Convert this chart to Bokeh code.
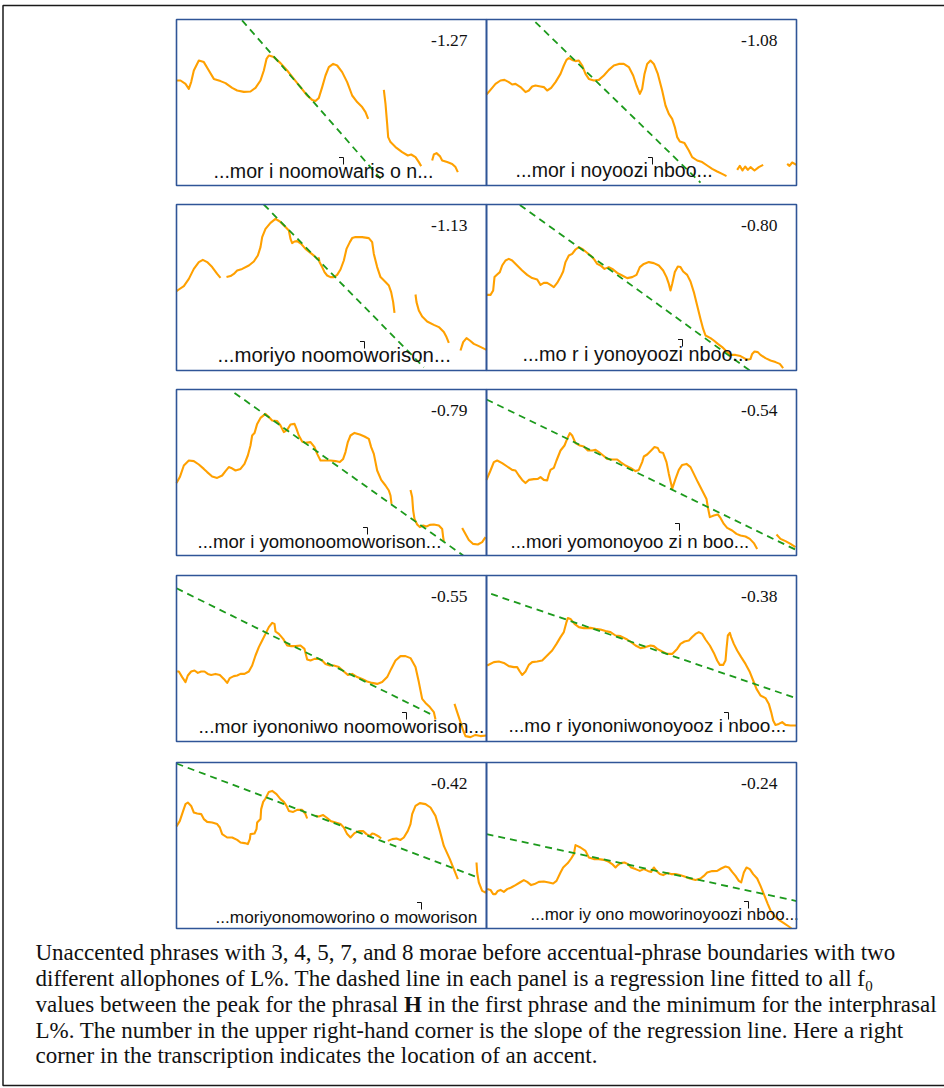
import glob

from bokeh.core.properties import value
from bokeh.embed import file_html
from bokeh.models import Range1d
from bokeh.plotting import figure
from bokeh.resources import INLINE

NaN = float("nan")

# ---------------------------------------------------------------------------
# f0 tracks, one list per panel; each inner list is a voiced stretch of
# (time in ms, f0 in Hz)
# ---------------------------------------------------------------------------
P1 = [
    [(0, 159.5), (18, 159.5), (40.5, 157.8), (55.5, 155.3), (66, 158.7), (78, 164.5), (100.5, 169.5),
     (123, 168.7), (145.5, 164.5), (168, 160.3), (198, 159.2), (220.5, 158.2), (250.5, 155.8), (273, 154.5),
     (303, 153.8), (333, 154), (355.5, 155.8), (378, 159.5), (393, 164.5), (405, 170.3), (415.5, 172),
     (438, 171.2), (468, 168.2), (498, 164.5), (528, 160.3), (558, 156.2), (588, 152), (610.5, 149.8),
     (625.5, 149.2), (640.5, 150.8), (655.5, 156.2), (670.5, 162), (685.5, 166.2), (705, 167.8), (723, 167),
     (745.5, 163.7), (768, 158.7), (790.5, 152), (813, 148.7), (835.5, 146.2), (850.5, 143.7), (862.5, 140.3)],
    [(933, 154.8), (940.5, 147.8), (948, 137.8), (952.5, 131.2), (963, 128.7), (985.5, 126.2), (1015.5, 123.7),
     (1041, 122), (1056, 122.5), (1075.5, 121.2), (1090.5, 118.7), (1101, 116.7)],
    [(1150.5, 119.5), (1158, 122.5), (1170, 123.2), (1185, 121.7), (1195.5, 119.5), (1218, 118.7),
     (1240.5, 117.8), (1255.5, 116.2), (1266, 113.7)],
]

P2 = [
    [(0, 152.5), (18, 154.8), (40.5, 157.8), (63, 159.5), (81, 159.8), (100.5, 158.7), (115.5, 157.5),
     (130.5, 157.8), (153, 156.2), (175.5, 153.7), (190.5, 154.5), (205.5, 156.5), (220.5, 157), (243, 156.5),
     (258, 156.2), (273, 154.5), (291, 155.8), (310.5, 158.7), (333, 162.8), (348, 167), (360, 169.8),
     (370.5, 170.7), (385.5, 169.8), (400.5, 169.2), (415.5, 169.5), (430.5, 167), (445.5, 162.8),
     (460.5, 160.3), (483, 159.5), (505.5, 159.8), (528, 162), (550.5, 164.8), (573, 167), (595.5, 167.8),
     (618, 167.8), (640.5, 166.2), (660, 162), (675, 157), (690, 152.8), (700.5, 155.3), (711, 162.8),
     (723, 167.8), (738, 169.5), (753, 167.8), (771, 162.8), (790.5, 154.5), (805.5, 147), (820.5, 142.8),
     (835.5, 140.3), (847.5, 136.2), (858, 131.2), (870, 129), (891, 128.2), (910.5, 124.5), (925.5, 121.2),
     (948, 119.5), (970.5, 118.7), (993, 117), (1015.5, 115.3), (1038, 114), (1060.5, 112.8), (1080, 111.7)],
    [(1128, 114.8), (1140, 116.8), (1152, 114.5), (1164, 116.5), (1176, 114.8), (1188, 116.2), (1206, 114.5),
     (1225.5, 116.2), (1245, 117.3)],
    [(1353, 117.8), (1363.5, 116.8), (1375.5, 118.5), (1395, 117.3)],
]

P3 = [
    [(0, 146.7), (10.5, 147.5), (33, 149.2), (55.5, 152.8), (78, 157.8), (100.5, 161.2), (118.5, 162.3),
     (138, 161.2), (160.5, 158.7), (183, 155.3), (198, 153.3)],
    [(225, 153.7), (243, 154.2), (258, 155.3), (273, 157), (295.5, 157.8), (325.5, 159.5), (348, 161.5),
     (366, 164.5), (378, 168.7), (385.5, 173.7), (400.5, 177.8), (423, 180.8), (445.5, 182.8), (465, 181.5),
     (490.5, 178.7), (505.5, 177), (513, 172.8), (520.5, 170.7), (531, 171.5), (543, 171.7), (561, 170.3),
     (580.5, 167.8), (603, 165.8), (621, 164.2), (633, 162.8), (640.5, 163.2), (643.5, 161.2), (655.5, 158.7),
     (666, 156.2), (678, 154.5), (693, 153.7), (708, 153.7), (723, 154.8), (738, 157.5), (753, 162),
     (765, 167.8), (780, 171.2), (790.5, 173.2), (805.5, 173.7), (835.5, 173.7), (865.5, 173.2), (880.5, 171.2),
     (888, 165.3), (903, 158.7), (918, 153.7), (940.5, 151.2), (955.5, 149.5), (966, 146.2), (975, 141.2),
     (981, 135.8)],
    [(1075.5, 145), (1080, 141.2), (1090.5, 137), (1105.5, 134), (1128, 131.5), (1158, 129.8), (1180.5, 128.7),
     (1203, 126.2), (1215, 123.7), (1225.5, 120.8)],
    [(1278, 117), (1290, 121.2), (1305, 123.2), (1320, 122), (1338, 120.3), (1360.5, 119.2), (1395, 117.3)],
]

P4 = [
    [(0, 144.8), (18, 144.8), (30, 147), (36, 153.7), (48, 155), (60, 156.2), (70.5, 159.5), (85.5, 162),
     (100.5, 162.8), (115.5, 162), (138, 159.5), (160.5, 157), (183, 154.8), (205.5, 153.2), (228, 152.5),
     (243, 149.8), (258, 150.8), (273, 150.8), (288, 149.8), (303, 148.7), (318, 150.8), (333, 153.7),
     (345, 156.5), (355.5, 161.2), (370.5, 164.5), (385.5, 165.3), (400.5, 167.5), (415.5, 168.7),
     (430.5, 167.8), (445.5, 166.5), (468, 164.5), (483, 162.8), (498, 160.3), (513, 159.5), (531, 157.8),
     (550.5, 158.7), (570, 157.5), (588, 155.8), (610.5, 154.5), (633, 153.2), (655.5, 153.7), (675, 154.8),
     (690, 158.7), (708, 160.3), (730.5, 161.2), (753, 160.7), (775.5, 159.5), (795, 157), (810, 153.7),
     (820.5, 150.3), (828, 147), (835.5, 150.3), (847.5, 156.2), (861, 159), (873, 158.7), (885, 156.5),
     (903, 154.8), (918, 151.5), (933, 146.2), (948, 139.5), (963, 132.8), (975, 127.8), (985.5, 124.5),
     (1008, 123.2), (1023, 122), (1041, 120.3), (1060.5, 118.7), (1083, 116.2), (1098, 114.8), (1120.5, 114.8),
     (1143, 114.2), (1165.5, 112.8), (1177.5, 112.5), (1188, 112.8), (1195.5, 115.3), (1206, 116.5),
     (1221, 116.2), (1233, 114.8), (1255.5, 113.2), (1278, 112), (1300.5, 111.2), (1320, 110.3), (1335, 108.2)],
]

P5 = [
    [(0, 143.2), (15, 146.2), (33, 152), (55.5, 154.5), (78, 154.2), (100.5, 152.5), (123, 150.3), (138, 148.7),
     (160.5, 146.5), (183, 145.8), (205.5, 147), (220.5, 149.2), (235.5, 151.2), (246, 150.8), (265.5, 149.5),
     (288, 150.3), (306, 152.8), (321, 157), (333, 162), (340.5, 167), (351, 168.2), (363, 172.8), (378, 175.8),
     (400.5, 177.8), (415.5, 176.2), (430.5, 174.5), (453, 174.2), (468, 172), (483, 168.7), (498, 169.8),
     (513, 172.5), (531, 172.8), (540, 170.3), (550.5, 167), (565.5, 164), (580.5, 163.3), (603, 163.7),
     (621, 161.2), (633, 157.8), (648, 154.5), (670.5, 154.5), (693, 154.5), (715.5, 154.2), (735, 153.7),
     (750, 155.3), (760.5, 158.7), (771, 163.7), (783, 167), (801, 168.3), (825, 167.5), (846, 166.5),
     (865.5, 165.3), (876, 161.2), (888, 157.8), (903, 149.5), (921, 144.8), (940.5, 142), (955.5, 139.5),
     (963, 137), (967.5, 132.8)],
    [(1053, 139.8), (1060.5, 136.2), (1065, 129.5), (1071, 125.3), (1083, 122.5), (1095, 121.2), (1110, 122),
     (1125, 121.5), (1140, 122.3), (1158, 122.5), (1180.5, 122), (1195.5, 120.3), (1200, 116.2), (1203, 114.2)],
    [(1285.5, 120.8), (1300.5, 117.8), (1315.5, 114.8), (1335, 112.8), (1356, 112.5), (1375.5, 113.7),
     (1390.5, 116.2)],
]

P6 = [
    [(0, 144.8), (18, 149.5), (33, 153.7), (48, 154.5), (70.5, 153.2), (93, 151.5), (115.5, 149.8),
     (130.5, 149.5), (145.5, 147), (160.5, 144.8), (175.5, 143.2), (190.5, 144.8), (213, 145.2), (231, 145.3),
     (243, 146.2), (258, 144.8), (273, 144.5), (280.5, 147.5), (288, 149.8), (303, 150.8), (315, 154.5),
     (333, 159.5), (351, 162), (363, 165.3), (375, 168.2), (385.5, 167), (400.5, 163.2), (420, 162),
     (438, 161.5), (456, 159.5), (475.5, 159.5), (490.5, 159.8), (505.5, 158.7), (525, 157), (543, 155.3),
     (565.5, 155), (588, 155), (603, 153.7), (625.5, 152), (648, 150.8), (670.5, 149.2), (685.5, 149.8),
     (700.5, 153.7), (708, 156.5), (723, 157.5), (741, 159.5), (756, 161.2), (771, 160.7), (780, 158.7),
     (795, 158.2), (810, 153.7), (820.5, 147.8), (831, 142.8), (835.5, 140.3), (850.5, 145.3), (865.5, 149.8),
     (880.5, 152.3), (900, 152.8), (918, 151.2), (933, 147.8), (951, 143.7), (970.5, 139.5), (990, 135.3),
     (996, 131.2), (1005, 126.2), (1023, 127), (1041, 127.5), (1053, 125.8), (1068, 122.8), (1083, 120.8),
     (1105.5, 119.5), (1125, 117.8), (1143, 117), (1165.5, 116.5), (1185, 115.3), (1203, 113.2), (1218, 110.3)],
    [(1305, 117.5), (1323, 115.3), (1345.5, 114.2), (1368, 112.8), (1390.5, 111.2)],
]

P7 = [
    [(3, 142), (10.5, 142), (25.5, 139.2), (40.5, 136.7), (51, 140), (66, 142), (81, 142.5), (96, 141.3),
     (111, 142), (126, 142), (141, 140.8), (156, 140.3), (175.5, 140.8), (195, 140.3), (213, 138.3),
     (228, 136.3), (240, 138.7), (258, 139.7), (273, 140), (288, 140.8), (306, 140.8), (325.5, 142),
     (340.5, 145), (355.5, 150), (370.5, 154.2), (385.5, 157.5), (400.5, 160.8), (415.5, 164.2), (430.5, 166.3),
     (441, 165.8), (445.5, 162), (460.5, 160.8), (480, 158.3), (498, 155), (516, 154.7), (535.5, 154.7),
     (558, 155), (576, 153.3), (588, 148), (603, 147.5), (621, 148.3), (640.5, 148.3), (655.5, 147.5),
     (670.5, 145.8), (690, 145), (708, 145), (730.5, 144.2), (753, 142), (771, 140.3), (790.5, 140.8),
     (813, 139.2), (835.5, 138.3), (858, 137), (880.5, 136.3), (903, 135.8), (925.5, 136.7), (948, 139.2),
     (966, 143.3), (985.5, 147.5), (1008, 149.7), (1030.5, 149.7), (1053, 148.7), (1075.5, 144.2),
     (1090.5, 136.7), (1105.5, 128.3), (1120.5, 126.3), (1140, 124.2), (1158, 121.7), (1165.5, 118)],
    [(1251, 125.8), (1263, 121.7), (1278, 116.7), (1290, 112.5), (1300.5, 109.7), (1323, 109.2),
     (1345.5, 110.3), (1368, 109.7), (1395, 110)],
]

P8 = [
    [(3, 145), (33, 146.7), (55.5, 147), (78, 146.3), (100.5, 144.7), (123, 144.2), (138, 144.2), (150, 142),
     (160.5, 140.3), (175.5, 142), (190.5, 145.3), (205.5, 146.7), (228, 147), (250.5, 147.5), (273, 150),
     (295.5, 152.5), (315, 155.8), (333, 159.2), (348, 161.7), (360, 166.7), (366, 168.7), (378, 168.3),
     (396, 165.8), (415.5, 164.2), (438, 163.7), (468, 163.8), (490.5, 163.3), (513, 163), (535.5, 162.2),
     (558, 161.7), (580.5, 160), (603, 159.7), (633, 158), (655.5, 156.3), (670.5, 155), (693, 153.7),
     (715.5, 154.2), (738, 155), (753, 154.7), (768, 153.3), (790.5, 152), (813, 150.8), (835.5, 150.8),
     (858, 153.3), (873, 155.8), (891, 157), (910.5, 157.5), (925.5, 159.2), (940.5, 160.8), (955.5, 161.7),
     (970.5, 160.8), (985.5, 158), (1005, 155), (1023, 151.3), (1038, 147.5), (1050, 145.3), (1065, 145.3),
     (1075.5, 147.5), (1080, 153.3), (1086, 160), (1095, 161.3), (1101, 159.2), (1113, 155.8), (1128, 152.5),
     (1146, 149.2), (1165.5, 145.8), (1185, 141.7), (1200, 137.5), (1215, 133.3), (1233, 130), (1255.5, 128.7),
     (1270.5, 125.8), (1281, 121.7), (1290, 117.5), (1300.5, 115.3), (1315.5, 115.8), (1330.5, 116.7),
     (1345.5, 115.3), (1368, 115), (1395, 115)],
]

P9 = [
    [(0, 158), (15, 160.8), (30, 165.8), (40.5, 169.2), (51, 170), (66, 168.3), (78, 165), (93, 164.5),
     (111, 164.2), (123, 161.7), (138, 160.3), (160.5, 160), (183, 159.2), (195, 157.5), (205.5, 154.2),
     (228, 152.5), (250.5, 152.5), (273, 151.3), (288, 150), (306, 149.7), (321, 149.2), (330, 151.7),
     (333, 154.2), (351, 154.5), (360, 156.7), (363, 160), (378, 161.7), (381, 166.7), (390, 170.3),
     (400.5, 172), (415.5, 175.3), (430.5, 175.8), (450, 174.2), (468, 171.7), (483, 170.3), (495, 168.3),
     (505.5, 165.8), (525, 165.3), (543, 166.3), (565.5, 166.3), (580.5, 164.2), (588, 162)],
    [(625.5, 163.3), (640.5, 163), (660, 163.7), (675, 162.5), (693, 160.8), (715.5, 160), (738, 159.2),
     (753, 157.5), (768, 154.2), (783, 152.5), (801, 154.7), (820.5, 155.7), (840, 155.7), (855, 154.2),
     (870, 153.3), (880.5, 154.5), (891, 154.2), (910.5, 153), (921, 152)],
    [(951, 150.8), (970.5, 151.7), (990, 152), (1008, 151.3), (1023, 152.5), (1041, 155.8), (1053, 159.2),
     (1060.5, 164.2), (1075.5, 168.3), (1095, 169.7), (1120.5, 169.2), (1143, 167.5), (1165.5, 163.3),
     (1185, 155.8), (1203, 148.3), (1230, 141.7), (1248, 136.7), (1266, 131.7)],
    [(1350, 140), (1353, 135), (1360.5, 130), (1375.5, 125.8), (1390.5, 125), (1395, 125.8)],
]

P10 = [
    [(3, 126.7), (18, 126.3), (30, 124.2), (40.5, 124.2), (51, 125.8), (63, 126.3), (78, 125.3), (93, 126.7),
     (111, 127.5), (130.5, 128.7), (150, 130), (168, 131.2), (183, 130.3), (201, 128.7), (216, 129.2),
     (235.5, 130.3), (258, 130.5), (280.5, 130), (300, 129.5), (315, 130.8), (333, 135), (345, 137.5),
     (366, 139.7), (381, 142), (393, 144.2), (400.5, 148.7), (408, 148.3), (423, 147.5), (445.5, 145.8),
     (460.5, 142.5), (483, 141.7), (505.5, 141.7), (528, 141.3), (550.5, 140.3), (565.5, 139.2), (580.5, 137.5),
     (591, 138.7), (603, 139.7), (621, 140), (636, 139.2), (651, 137.5), (670.5, 136.7), (690, 135.8),
     (708, 136.7), (726, 135.8), (741, 135.3), (753, 137.5), (765, 135.8), (780, 134.2), (795, 133.7),
     (813, 134.7), (831, 134.2), (850.5, 134.2), (870, 133.7), (891, 133), (915, 132), (940.5, 131.3),
     (963, 132), (978, 133.3), (993, 135), (1015.5, 135.7), (1038, 135.8), (1056, 137), (1075.5, 138),
     (1090.5, 137.5), (1105.5, 135.3), (1120.5, 133.3), (1135.5, 130.8), (1146, 130), (1158, 135),
     (1170, 137.5), (1185, 136.7), (1200, 134.2), (1218, 132), (1233, 128.3), (1248, 124.2), (1266, 119.2),
     (1281, 115.3), (1296, 113.3), (1315.5, 111.3), (1338, 109.7), (1360.5, 108), (1372, 107)],
]

CONTOURS = [P1, P2, P3, P4, P5, P6, P7, P8, P9, P10]

# regression slopes (Hz per 10 ms), printed in each panel
SLOPES = [-1.27, -1.08, -1.13, -0.80, -0.79, -0.54, -0.55, -0.38, -0.42, -0.24]
# fitted stretch of each regression line: start time, f0 at start, end time
REG_T0 = [295, 220, 390, 150, 261, 0, 0, 21, 0, 0]
REG_F0 = [189.6, 188.7, 190.3, 189.8, 188.3, 185.0, 183.6, 180.8, 189.5, 154.2]
REG_T1 = [918, 963, 1113, 1188, 1293, 1395, 1158, 1395, 1353, 1395]

TRANSCRIPTIONS = [
    "...mor i noomowaris o n...",
    "...mor i noyoozi nboo...",
    "...moriyo noomoworison...",
    "...mo r i yonoyoozi nboo...",
    "...mor i yomonoomoworison...",
    "...mori yomonoyoo zi n boo...",
    "...mor iyononiwo noomoworison...",
    "...mo r iyononiwonoyooz i nboo...",
    "...moriyonomoworino o moworison",
    "...mor iy ono moworinoyoozi nboo...",
]
TRANSCRIPTION_SIZE = [19.6, 19.5, 20.4, 19.8, 18.6, 18.6, 19.2, 19.0, 17.2, 17.0]

CAPTION_1 = "Unaccented phrases with 3, 4, 5, 7, and 8 morae before accentual-phrase boundaries with two"
CAPTION_2 = "different allophones of L%. The dashed line in each panel is a regression line fitted to all f"
CAPTION_2_SUB = "0"
CAPTION_3A = "values between the peak for the phrasal"
CAPTION_3B = "H"
CAPTION_3C = "in the first phrase and the minimum for the interphrasal"
CAPTION_4 = "L%. The number in the upper right-hand corner is the slope of the regression line. Here a right"
CAPTION_5 = "corner in the transcription indicates the location of an accent."

# ---------------------------------------------------------------------------
# page geometry (screen pixels)
# ---------------------------------------------------------------------------
PAGE_W, PAGE_H = 944, 1088
COL_LEFT = [176, 486]
ROW_TOP = [19, 204, 389, 575, 762]
PANEL_W, PANEL_H = 310, 166
T_RANGE = (0, 1395)
F_RANGE = (107, 190)

# transcription anchor (left, baseline) and accent corner inside each panel
TEXT_OFFSET = [(37, 158), (29, 157), (41, 157), (36, 156), (21, 158),
               (24, 158), (22, 158), (22, 156), (39, 160), (44, 158)]
ACCENT_OFFSET = [(167, 138), (166, 138), (188, 137), (196, 135), (191, 138),
                 (193, 134), (230, 137), (242, 137), (245, 140), (262, 139)]

ORANGE = "#FFA000"
GREEN = "#1C9A1C"
FRAME = "#2F5597"
SERIF = "Liberation Serif"
SANS = "Liberation Sans"

CAPTION_X = 35
CAPTION_BASE = [960, 986, 1012, 1037.5, 1063]
CAPTION_SIZE = 23
LABEL_SIZE = 17.5
# the svg text baseline sits lower than the alphabetic line; lift by this share of the size
BASELINE_LIFT = 0.34


def lift(size):
    return BASELINE_LIFT * size


def text_width(text, size, bold=False):
    """Advance width of a Liberation Serif string, with a rough fallback."""
    name = "LiberationSerif-Bold.ttf" if bold else "LiberationSerif-Regular.ttf"
    try:
        from PIL import ImageFont
        paths = (glob.glob("/usr/share/fonts/**/" + name, recursive=True)
                 + glob.glob("/usr/local/share/fonts/**/" + name, recursive=True))
        font = ImageFont.truetype(paths[0], size)
        return font.getlength(text)
    except Exception:
        return len(text) * 0.43 * size


def join_segments(segments):
    xs, ys = [], []
    for k, seg in enumerate(segments):
        if k:
            xs.append(NaN)
            ys.append(NaN)
        for t, f in seg:
            xs.append(t)
            ys.append(f)
    return xs, ys


def regression_ends(t0, f0, t1, slope):
    rate = slope / 10.0
    lo, hi = F_RANGE
    if f0 > hi:
        t0 = t0 + (hi - f0) / rate
        f0 = hi
    f1 = f0 + rate * (t1 - t0)
    if f1 < lo:
        t1 = t0 + (lo - f0) / rate
        f1 = lo
    return [t0, t1], [f0, f1]


p = figure(width=PAGE_W, height=PAGE_H,
           x_range=Range1d(0, PAGE_W), y_range=Range1d(PAGE_H, 0),
           x_axis_type=None, y_axis_type=None,
           toolbar_location=None, output_backend="svg", min_border=0)
p.outline_line_color = None
p.background_fill_color = "white"
p.border_fill_color = "white"

# outer box around figure and caption
p.quad(left=[2.5], right=[PAGE_W + 10], top=[5], bottom=[1085],
       fill_color=None, line_color="#1a1a1a", line_width=1.5)

frames_l, frames_r, frames_t, frames_b = [], [], [], []
lab_x, lab_y, lab_t = [], [], []
acc_xs, acc_ys = [], []

for i, segments in enumerate(CONTOURS):
    r, c = divmod(i, 2)
    left, top = COL_LEFT[c], ROW_TOP[r]

    sub = p.subplot(
        x_source=Range1d(*T_RANGE), y_source=Range1d(*F_RANGE),
        x_target=Range1d(left, left + PANEL_W), y_target=Range1d(top + PANEL_H, top),
    )
    xs, ys = join_segments(segments)
    sub.line(x=xs, y=ys, line_color=ORANGE, line_width=2.1, line_join="round")

    rx, ry = regression_ends(REG_T0[i], REG_F0[i], REG_T1[i], SLOPES[i])
    sub.line(x=rx, y=ry, line_color=GREEN, line_width=1.8, line_dash="7 5")

    frames_l.append(left)
    frames_r.append(left + PANEL_W)
    frames_t.append(top)
    frames_b.append(top + PANEL_H)

    lab_x.append(left + PANEL_W - 19)
    lab_y.append(top + 27 - lift(LABEL_SIZE))
    lab_t.append(f"{SLOPES[i]:.2f}")

    dx, dy = TEXT_OFFSET[i]
    size = TRANSCRIPTION_SIZE[i]
    p.text(x=[left + dx], y=[top + dy - lift(size)], text=[TRANSCRIPTIONS[i]],
           text_font=value(SANS), text_font_size=f"{size}px",
           text_align="left", text_baseline="alphabetic", text_color="#111111")

    ax, ay = ACCENT_OFFSET[i]
    acc_xs.append([left + ax - 4.5, left + ax, left + ax])
    acc_ys.append([top + ay, top + ay, top + ay + 7])

p.quad(left=frames_l, right=frames_r, top=frames_t, bottom=frames_b,
       fill_color=None, line_color=FRAME, line_width=1.6)

p.text(x=lab_x, y=lab_y, text=lab_t, text_font=value(SERIF), text_font_size=f"{LABEL_SIZE}px",
       text_align="right", text_baseline="alphabetic", text_color="#111111")

p.multi_line(xs=acc_xs, ys=acc_ys, line_color="#111111", line_width=1)

# caption
cap_lift = lift(CAPTION_SIZE)
plain_lines = [CAPTION_1, CAPTION_2, None, CAPTION_4, CAPTION_5]
cap_x, cap_y, cap_t = [], [], []
for line, base in zip(plain_lines, CAPTION_BASE):
    if line is not None:
        cap_x.append(CAPTION_X)
        cap_y.append(base - cap_lift)
        cap_t.append(line)

x_h = CAPTION_X + text_width(CAPTION_3A + " ", CAPTION_SIZE)
x_rest = x_h + text_width(CAPTION_3B, CAPTION_SIZE, bold=True) + text_width(" ", CAPTION_SIZE)
cap_x += [CAPTION_X, x_rest]
cap_y += [CAPTION_BASE[2] - cap_lift, CAPTION_BASE[2] - cap_lift]
cap_t += [CAPTION_3A, CAPTION_3C]

p.text(x=cap_x, y=cap_y, text=cap_t, text_font=value(SERIF), text_font_size=f"{CAPTION_SIZE}px",
       text_align="left", text_baseline="alphabetic", text_color="#111111")
p.text(x=[x_h], y=[CAPTION_BASE[2] - cap_lift], text=[CAPTION_3B], text_font=value(SERIF),
       text_font_size=f"{CAPTION_SIZE}px", text_font_style="bold",
       text_align="left", text_baseline="alphabetic", text_color="#111111")

x_sub = CAPTION_X + text_width(CAPTION_2, CAPTION_SIZE)
p.text(x=[x_sub + 0.5], y=[CAPTION_BASE[1] + 5 - lift(15)], text=[CAPTION_2_SUB], text_font=value(SERIF),
       text_font_size="15px", text_align="left", text_baseline="alphabetic", text_color="#111111")

open("out.html", "w").write(file_html(p, INLINE))
